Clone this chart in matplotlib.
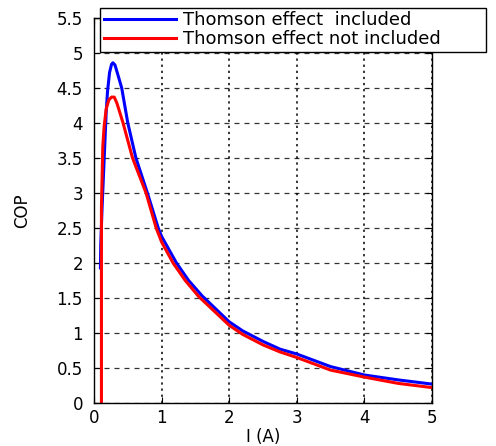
import numpy as np
import matplotlib
matplotlib.use('Agg')
import matplotlib.pyplot as plt

# COP vs current
I_incl = [0.095, 0.10, 0.12, 0.14, 0.16, 0.18, 0.20, 0.23, 0.26, 0.28, 0.31, 0.35, 0.41, 0.50,
          0.62, 0.79, 0.95, 1.0, 1.22, 1.4, 1.6, 2.0, 2.2, 2.5, 2.75, 3.0, 3.5, 4.0, 4.5, 5.0]
cop_incl = [1.93, 2.26, 2.80, 3.25, 3.70, 4.15, 4.45, 4.72, 4.84, 4.86, 4.83, 4.70, 4.50, 4.00,
            3.50, 3.00, 2.50, 2.38, 2.00, 1.75, 1.53, 1.16, 1.03, 0.88, 0.77, 0.70, 0.52, 0.40, 0.33, 0.27]

I_not = [0.11, 0.11, 0.13, 0.15, 0.18, 0.22, 0.26, 0.30, 0.34, 0.43, 0.57, 0.77, 0.92, 1.0,
         1.17, 1.35, 1.55, 2.0, 2.2, 2.5, 2.75, 3.0, 3.5, 4.0, 4.5, 5.0]
cop_not = [0.0, 2.80, 3.66, 3.95, 4.20, 4.33, 4.37, 4.37, 4.28, 4.00, 3.50, 3.00, 2.50, 2.30,
           2.00, 1.75, 1.52, 1.11, 0.98, 0.83, 0.73, 0.65, 0.47, 0.37, 0.28, 0.22]

labels = ['Thomson effect  included', 'Thomson effect not included']
xticks = [0, 1, 2, 3, 4, 5]
yticks = np.arange(0, 5.51, 0.5)
ytick_labels = ['0', '0.5', '1', '1.5', '2', '2.5', '3', '3.5', '4', '4.5', '5', '5.5']

plt.rcParams['font.family'] = ['DejaVu Sans']

fig = plt.figure(figsize=(4.96, 4.46), dpi=100)
ax = fig.add_axes([94 / 496, 43 / 446, 338 / 496, 385 / 446])

ax.plot(I_incl, cop_incl, color='#0000ff', lw=2.2, label=labels[0])
ax.plot(I_not, cop_not, color='#ff0000', lw=2.2, label=labels[1])

ax.set_xlim(0, 5)
ax.set_ylim(0, 5.5)
ax.set_xticks(xticks)
ax.set_xticklabels([str(t) for t in xticks])
ax.set_yticks(yticks)
ax.set_yticklabels(ytick_labels)
ax.tick_params(direction='in', length=4, labelsize=12, top=True, right=True, colors='black')
ax.tick_params(axis='y', pad=8)
ax.tick_params(axis='x', pad=4)

# matlab style grid: dotted verticals, dashed horizontals
ax.xaxis.grid(True, linestyle=(0, (1.5, 2.5)), color='black', lw=1.1)
ax.yaxis.grid(True, linestyle=(0, (4, 4)), color='black', lw=0.9, alpha=0.8)
for s in ax.spines.values():
    s.set_linewidth(1.0)

ax.set_xlabel('I (A)', fontsize=12, labelpad=1)
ax.set_ylabel('COP', fontsize=12, labelpad=18)

# legend sticks out past the right edge of the axes like in the original
leg = ax.legend(loc='lower left', bbox_to_anchor=(0.018, 0.912, 386 / 338, 0.12),
                mode='expand', borderaxespad=0,
                fontsize=13, handlelength=4.0, handletextpad=0.4, labelspacing=0.05,
                borderpad=0.2, fancybox=False, framealpha=1, edgecolor='black')
leg.get_frame().set_linewidth(1.0)

fig.savefig('out.png', dpi=100)
